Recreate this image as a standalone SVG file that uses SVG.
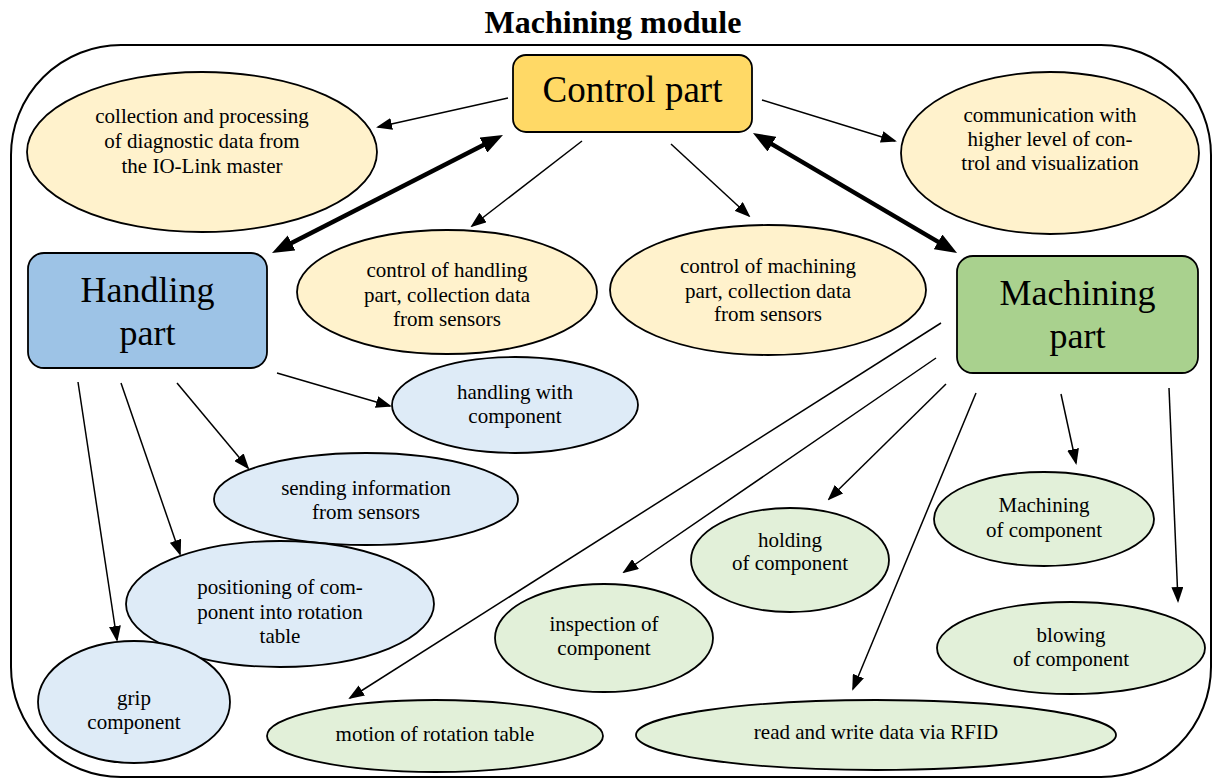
<svg xmlns="http://www.w3.org/2000/svg" width="1218" height="778" viewBox="0 0 1218 778">
<style>
text{font-family:"Liberation Serif","DejaVu Serif",serif;fill:#000;text-anchor:middle}
.title{font-size:32px;font-weight:bold}
.big{font-size:37px}
.mid{font-size:36px}
.sm{font-size:21px}
.node{stroke:#000;stroke-width:1.8}
.yel{fill:#FFF2CC}
.blu{fill:#DEEBF7}
.grn{fill:#E2F0D9}
.thin{stroke:#000;stroke-width:1.5;fill:none;marker-end:url(#ah)}
.thick{stroke:#000;stroke-width:4.5;fill:none;marker-start:url(#ahb);marker-end:url(#ahb)}
</style>
<defs>
<marker id="ah" markerUnits="userSpaceOnUse" viewBox="0 0 16 12" markerWidth="16" markerHeight="12" refX="14" refY="6" orient="auto"><path d="M0,0 L16,6 L0,12 z" fill="#000"/></marker>
<marker id="ahb" markerUnits="userSpaceOnUse" viewBox="0 0 22 17" markerWidth="22" markerHeight="17" refX="10" refY="8.5" orient="auto-start-reverse"><path d="M0,0 L22,8.5 L0,17 z" fill="#000"/></marker>
</defs>
<rect width="1218" height="778" fill="#fff"/>
<text class="title" x="613" y="33">Machining module</text>
<rect id="frame" x="11" y="45" width="1200" height="732" rx="110" ry="110" fill="none" stroke="#000" stroke-width="2"/>

<g id="connectors">
<line class="thick" x1="492.3" y1="140.5" x2="282.7" y2="247.5"/>
<line class="thick" x1="763.3" y1="139.1" x2="946.7" y2="246.9"/>
<line class="thin" x1="508" y1="98" x2="378" y2="127"/>
<line class="thin" x1="762" y1="100" x2="895" y2="141"/>
<line class="thin" x1="582" y1="141" x2="472" y2="226"/>
<line class="thin" x1="671" y1="144" x2="749" y2="216"/>
<line class="thin" x1="277" y1="373" x2="390" y2="406"/>
<line class="thin" x1="177" y1="383" x2="248" y2="468"/>
<line class="thin" x1="121" y1="383" x2="180" y2="554"/>
<line class="thin" x1="78" y1="382" x2="117" y2="640"/>
<line class="thin" x1="941" y1="323" x2="350" y2="698"/>
<line class="thin" x1="936" y1="358" x2="624" y2="572"/>
<line class="thin" x1="946" y1="384" x2="829" y2="499"/>
<line class="thin" x1="976" y1="393" x2="853" y2="689"/>
<line class="thin" x1="1061" y1="394" x2="1076" y2="463" stroke-width="2"/>
<line class="thin" x1="1169" y1="388" x2="1178" y2="601"/>
</g>

<g id="control">
<rect class="node" x="513" y="55" width="239" height="77" rx="13" fill="#FFD966"/>
<text class="big" x="632.5" y="102">Control part</text>
</g>
<g id="handling">
<rect class="node" x="28" y="253" width="239" height="115" rx="16" fill="#9DC3E6"/>
<text class="mid" x="147.5" y="302">Handling</text>
<text class="mid" x="147.5" y="345">part</text>
</g>
<g id="machining">
<rect class="node" x="957" y="256" width="241" height="117" rx="16" fill="#A9D18E"/>
<text class="mid" x="1077.5" y="305">Machining</text>
<text class="mid" x="1077.5" y="348">part</text>
</g>

<g id="collection">
<ellipse class="node yel" cx="202" cy="152" rx="175" ry="80"/>
<text class="sm" x="202" y="123">collection and processing</text>
<text class="sm" x="202" y="148">of diagnostic data from</text>
<text class="sm" x="202" y="173">the IO-Link master</text>
</g>
<g id="communication">
<ellipse class="node yel" cx="1050" cy="153" rx="149" ry="81"/>
<text class="sm" x="1050" y="122">communication with</text>
<text class="sm" x="1050" y="146">higher level of con-</text>
<text class="sm" x="1050" y="170">trol and visualization</text>
</g>
<g id="ctrl-handling">
<ellipse class="node yel" cx="447" cy="292" rx="150" ry="62"/>
<text class="sm" x="447" y="277">control of handling</text>
<text class="sm" x="447" y="302">part, collection data</text>
<text class="sm" x="447" y="326">from sensors</text>
</g>
<g id="ctrl-machining">
<ellipse class="node yel" cx="768" cy="290" rx="158" ry="65"/>
<text class="sm" x="768" y="273">control of machining</text>
<text class="sm" x="768" y="298">part, collection data</text>
<text class="sm" x="768" y="321">from sensors</text>
</g>

<g id="handling-with">
<ellipse class="node blu" cx="515" cy="405" rx="123" ry="48"/>
<text class="sm" x="515" y="399">handling with</text>
<text class="sm" x="515" y="423">component</text>
</g>
<g id="sending">
<ellipse class="node blu" cx="366" cy="499" rx="152" ry="46"/>
<text class="sm" x="366" y="495">sending information</text>
<text class="sm" x="366" y="519">from sensors</text>
</g>
<g id="positioning">
<ellipse class="node blu" cx="280" cy="604" rx="154" ry="63"/>
<text class="sm" x="280" y="594">positioning of com-</text>
<text class="sm" x="280" y="619">ponent into rotation</text>
<text class="sm" x="280" y="643">table</text>
</g>
<g id="grip">
<ellipse class="node blu" cx="134" cy="702" rx="96" ry="61"/>
<text class="sm" x="134" y="705">grip</text>
<text class="sm" x="134" y="729">component</text>
</g>

<g id="machining-of">
<ellipse class="node grn" cx="1044" cy="519" rx="110" ry="47"/>
<text class="sm" x="1044" y="512">Machining</text>
<text class="sm" x="1044" y="537">of component</text>
</g>
<g id="holding">
<ellipse class="node grn" cx="790" cy="560" rx="99" ry="52"/>
<text class="sm" x="790" y="547">holding</text>
<text class="sm" x="790" y="570">of component</text>
</g>
<g id="inspection">
<ellipse class="node grn" cx="604" cy="638" rx="109" ry="54"/>
<text class="sm" x="604" y="631">inspection of</text>
<text class="sm" x="604" y="655">component</text>
</g>
<g id="blowing">
<ellipse class="node grn" cx="1071" cy="648" rx="134" ry="46"/>
<text class="sm" x="1071" y="642">blowing</text>
<text class="sm" x="1071" y="666">of component</text>
</g>
<g id="motion">
<ellipse class="node grn" cx="435" cy="736" rx="168" ry="36"/>
<text class="sm" x="435" y="741">motion of rotation table</text>
</g>
<g id="rfid">
<ellipse class="node grn" cx="876" cy="735" rx="240" ry="35"/>
<text class="sm" x="876" y="739">read and write data via RFID</text>
</g>
</svg>
